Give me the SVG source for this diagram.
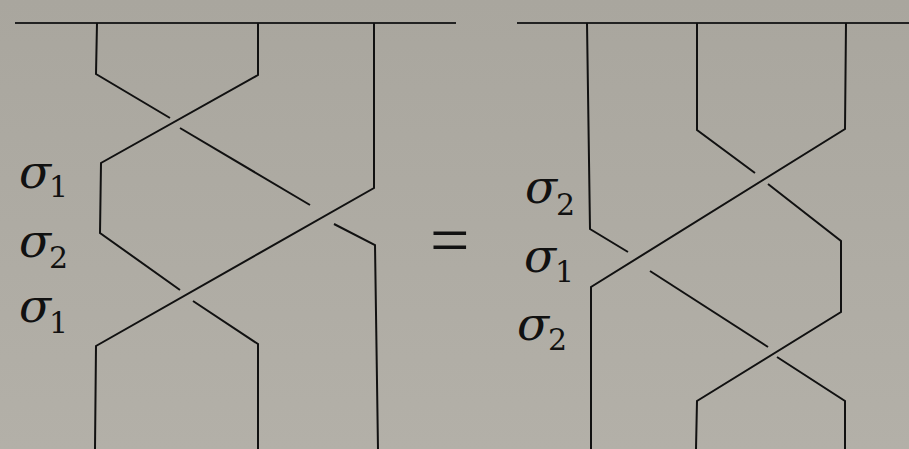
<svg xmlns="http://www.w3.org/2000/svg" width="909" height="449" viewBox="0 0 909 449">
<defs>
<linearGradient id="bg" x1="0" y1="0" x2="0" y2="1">
<stop offset="0" stop-color="#a9a69e"/>
<stop offset="1" stop-color="#b3b0a8"/>
</linearGradient>
</defs>
<style>
.s{fill:none;stroke:#111;stroke-width:2;stroke-linejoin:miter;stroke-linecap:butt}
.bar{stroke:#222;stroke-width:2.2}
.sig{font-family:"DejaVu Serif",serif;font-style:italic;font-size:47px;fill:#111}
.sub{font-family:"DejaVu Serif",serif;font-style:normal;font-size:30px;fill:#111}
.eq{font-family:"Liberation Serif",serif;font-size:70px;fill:#111}
</style>
<rect width="909" height="449" fill="url(#bg)"/>
<g id="left-braid">
<line class="bar" x1="15" y1="23" x2="456" y2="23"/>
<g id="L-strand1">
<polyline class="s" points="97,23 96,74 170,118"/>
<polyline class="s" points="180,128 310,205"/>
<polyline class="s" points="334,224 375,245 378,449"/>
</g>
<g id="L-strand2">
<polyline class="s" points="258,23 258,75 101,163 100,233 180,290"/>
<polyline class="s" points="193,301 258,344 258,449"/>
</g>
<g id="L-strand3">
<polyline class="s" points="374,23 374,188 96,346 95,449"/>
</g>
</g>
<g id="right-braid">
<line class="bar" x1="517" y1="23" x2="909" y2="23"/>
<g id="R-strand1">
<polyline class="s" points="587,23 590,229 628,252"/>
<polyline class="s" points="650,271 768,347"/>
<polyline class="s" points="777,357 845,401 845,449"/>
</g>
<g id="R-strand2">
<polyline class="s" points="697,23 697,130 755,173"/>
<polyline class="s" points="768,184 841,241 841,312 697,401 696,449"/>
</g>
<g id="R-strand3">
<polyline class="s" points="846,23 845,129 591,287 591,449"/>
</g>
</g>
<g id="labels">
<text class="sig" x="19" y="188">σ</text><text class="sub" x="49" y="197">1</text>
<text class="sig" x="19" y="257">σ</text><text class="sub" x="49" y="268">2</text>
<text class="sig" x="19" y="322">σ</text><text class="sub" x="49" y="333">1</text>
<text class="eq" x="430" y="264">=</text>
<text class="sig" x="525" y="203">σ</text><text class="sub" x="556" y="215">2</text>
<text class="sig" x="524" y="272">σ</text><text class="sub" x="555" y="282">1</text>
<text class="sig" x="517" y="340">σ</text><text class="sub" x="548" y="350">2</text>
</g>
</svg>
